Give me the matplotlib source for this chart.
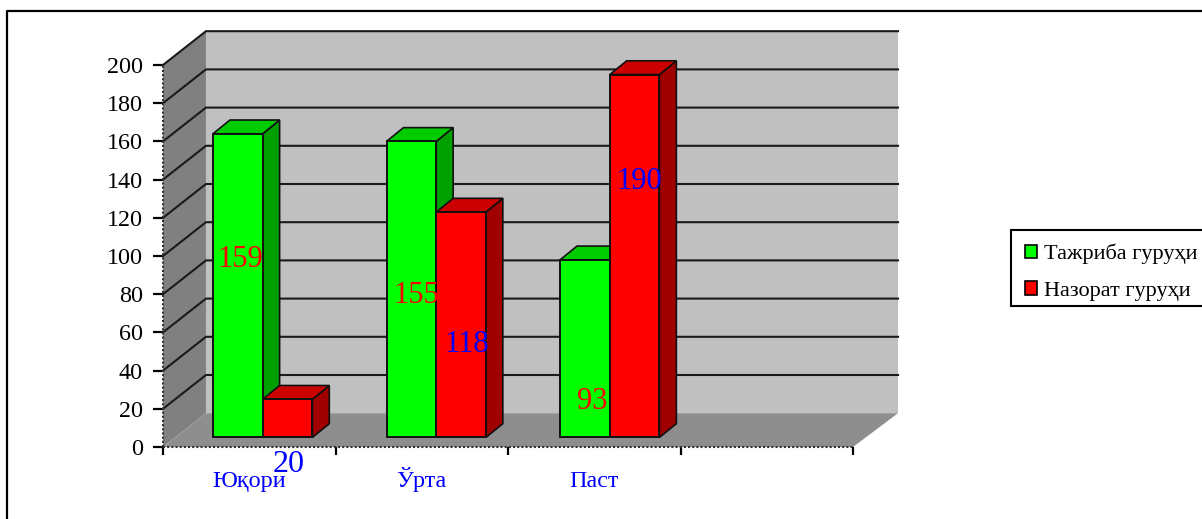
#!/usr/bin/env python3
"""Two groups of 3D-look bars (Тажриба / Назорат) drawn on a flat matplotlib axes."""

import matplotlib

matplotlib.use("Agg")
import matplotlib.pyplot as plt
from matplotlib.lines import Line2D
from matplotlib.patches import Patch, Polygon, Rectangle

plt.rcParams["font.family"] = ["Liberation Serif", "DejaVu Serif"]

categories = ["Юқори", "Ўрта", "Паст"]
experiment = [159, 155, 93]
control = [20, 118, 190]
y_ticks = list(range(0, 201, 20))
series_names = ["Тажриба гуруҳи", "Назорат гуруҳи"]

W, H = 1202, 519
# depth of the box and of the bars, in data units
BOX_DX, BOX_DY = 0.249, 17.7
BOX_RIGHT = 4.012
BAR_DX, BAR_DY = 0.098, 7.2
BAR_BASE = 5.0
BAR_LEFT, BAR_W, BAR_STEP = 0.29, 0.288, 1.006

GREEN = ("#00FF00", "#00CC00", "#00A000")
RED = ("#FF0000", "#CC0000", "#A00000")

fig = plt.figure(figsize=(W / 100, H / 100), dpi=100)
ax = fig.add_axes([163 / W, 1 - 447 / H, 690 / W, 382 / H])
ax.set_xlim(0, 4)
ax.set_ylim(0, 200)
ax.patch.set_visible(False)


def poly(points, color, z, edge="none", lw=0):
    ax.add_patch(Polygon(points, closed=True, facecolor=color, edgecolor=edge,
                         linewidth=lw, zorder=z, clip_on=False))


# walls and floor
poly([(BOX_DX, BOX_DY), (BOX_RIGHT + BOX_DX, BOX_DY), (BOX_RIGHT + BOX_DX, 200 + BOX_DY), (BOX_DX, 200 + BOX_DY)],
     "#C0C0C0", 1)
poly([(0, 0), (BOX_DX, BOX_DY), (BOX_DX, 200 + BOX_DY), (0, 200)], "#808080", 1)
for v in y_ticks[1:]:
    ax.plot([0, BOX_DX, BOX_RIGHT + BOX_DX], [v, v + BOX_DY, v + BOX_DY], color="#1a1a1a", lw=1.5,
            zorder=2, clip_on=False, solid_joinstyle="miter")
poly([(0, 0), (4, 0), (BOX_RIGHT + BOX_DX, BOX_DY), (BOX_DX, BOX_DY)], "#8E8E8E", 3)


def draw_bar(x0, value, colors, z):
    front, top, side = colors
    x1 = x0 + BAR_W
    y0, y1 = BAR_BASE, BAR_BASE + value
    ec = "#101010"
    poly([(x1, y0), (x1 + BAR_DX, y0 + BAR_DY), (x1 + BAR_DX, y1 + BAR_DY), (x1, y1)], side, z, ec, 1.2)
    poly([(x0, y1), (x1, y1), (x1 + BAR_DX, y1 + BAR_DY), (x0 + BAR_DX, y1 + BAR_DY)], top, z, ec, 1.2)
    ax.bar(x0, value, width=BAR_W, bottom=BAR_BASE, align="edge", color=front,
           edgecolor=ec, linewidth=1.4, zorder=z + 0.1)


for i in range(len(categories)):
    draw_bar(i * BAR_STEP + BAR_LEFT, experiment[i], GREEN, 4 + i * 2)
    draw_bar(i * BAR_STEP + BAR_LEFT + BAR_W, control[i], RED, 5 + i * 2)

# value labels sit wherever the original author dragged them
exp_label_x = [0.445, 1.47, 2.49]
exp_label_y = [98.3, 79.3, 23.8]
ctl_label_x = [0.73, 1.76, 2.76]
ctl_label_y = [-9.2, 53.8, 138.8]
for x, y, v in zip(exp_label_x, exp_label_y, experiment):
    ax.text(x, y, str(v), color="#FF0000", fontsize=22, ha="center", va="center", zorder=20)
for x, y, v in zip(ctl_label_x, ctl_label_y, control):
    ax.text(x, y, str(v), color="#0000FF", fontsize=23 if v == 20 else 22, ha="center", va="center",
            zorder=20, clip_on=False)

# axes
for name in ("top", "right"):
    ax.spines[name].set_visible(False)
for name in ("left", "bottom"):
    ax.spines[name].set_linestyle((0, (1, 1)))
    ax.spines[name].set_linewidth(1.5)
    ax.spines[name].set_color("#303030")
    ax.spines[name].set_capstyle("butt")
    ax.spines[name].set_zorder(3.5)
ax.set_yticks(y_ticks)
ax.tick_params(axis="y", length=7, width=1.6, labelsize=17.4, pad=7.5)
ax.set_xticks(range(5))
ax.set_xticklabels([])
ax.tick_params(axis="x", which="major", length=6, width=1.6)
ax.set_xticks([i + 0.5 for i in range(len(categories))], categories, minor=True)
ax.tick_params(axis="x", which="minor", length=0, labelsize=17.4, labelcolor="#0000FF", pad=29)
for lbl in ax.get_xticklabels(minor=True):
    lbl.set_va("baseline")

# legend box is drawn by hand: it is shorter than the legend's own padding allows,
# and runs off the right edge like in the source
fig.add_artist(Rectangle((1011 / W, 1 - 306 / H), 205 / W, 76 / H, transform=fig.transFigure,
                         facecolor="white", edgecolor="black", linewidth=1.5))
handles = [Patch(facecolor=GREEN[0], edgecolor="black", linewidth=1.2, label=series_names[0]),
           Patch(facecolor=RED[0], edgecolor="black", linewidth=1.2, label=series_names[1])]
fig.legend(handles=handles, loc="upper left", bbox_to_anchor=(1011 / W, 1 - 230 / H),
           fontsize=16, frameon=False, handlelength=0.55, handleheight=0.55, handletextpad=0.32,
           labelspacing=0.75, borderpad=0.63, borderaxespad=0)

# outer frame, also cut off by the picture edge
fig.add_artist(Line2D([7 / W, 7 / W, 1], [0, 1 - 11 / H, 1 - 11 / H], color="black", lw=1.6))

fig.savefig("out.png", dpi=100)
